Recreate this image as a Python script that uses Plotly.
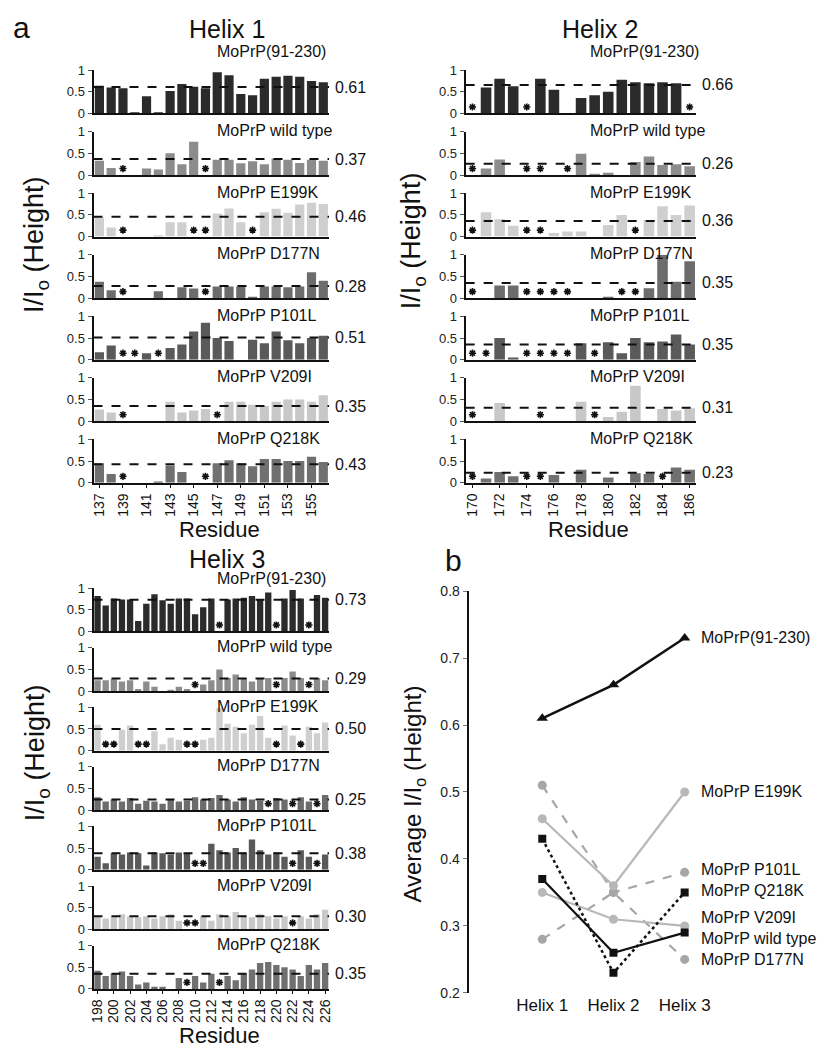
import plotly.graph_objects as go

W, H = 833, 1050
FONT = "Liberation Sans, Arial, Helvetica, sans-serif"
N = None  # residue marked with an asterisk (no value)

# ---------------- data ----------------
MUTANTS = ["MoPrP(91-230)", "MoPrP wild type", "MoPrP E199K", "MoPrP D177N",
           "MoPrP P101L", "MoPrP V209I", "MoPrP Q218K"]
HELICES = ["Helix 1", "Helix 2", "Helix 3"]

RES_H1 = list(range(137, 157))
RES_H2 = list(range(170, 187))
RES_H3 = list(range(198, 227))

H1_91230 = [0.64, 0.60, 0.58, 0.02, 0.40, 0.02, 0.52, 0.68, 0.62, 0.58, 0.95, 0.88, 0.45, 0.42, 0.80, 0.85, 0.87, 0.85, 0.75, 0.72]
H1_WT    = [0.33, 0.16, N, 0, 0.15, 0.13, 0.50, 0.25, 0.77, N, 0.35, 0.35, 0.27, 0.32, 0.25, 0.38, 0.35, 0.28, 0.35, 0.33]
H1_E199K = [0.44, 0.21, N, 0, 0, 0.03, 0.33, 0.33, N, N, 0.53, 0.65, 0.33, N, 0.56, 0.64, 0.55, 0.74, 0.78, 0.75]
H1_D177N = [0.38, 0.18, N, 0, 0, 0.16, 0, 0.25, 0.22, N, 0.27, 0.27, 0.27, 0.02, 0.27, 0.27, 0.25, 0.27, 0.60, 0.40]
H1_P101L = [0.17, 0.33, N, N, 0.15, N, 0.27, 0.35, 0.65, 0.85, 0.50, 0.43, 0, 0.46, 0.38, 0.65, 0.45, 0.38, 0.50, 0.55]
H1_V209I = [0.27, 0.20, N, 0, 0, 0, 0.45, 0.20, 0.25, 0.28, N, 0.45, 0.45, 0.38, 0.35, 0.45, 0.50, 0.50, 0.45, 0.60]
H1_Q218K = [0.45, 0.20, N, 0, 0, 0.02, 0.40, 0.25, 0, N, 0.45, 0.52, 0.45, 0.38, 0.55, 0.55, 0.50, 0.50, 0.60, 0.48]

H2_91230 = [N, 0.60, 0.80, 0.63, N, 0.80, 0.55, 0, 0.36, 0.42, 0.50, 0.78, 0.72, 0.70, 0.72, 0.70, N]
H2_WT    = [N, 0.15, 0.36, 0, N, N, 0, N, 0.49, 0.03, 0.05, 0, 0.30, 0.43, 0.23, 0.25, 0.20]
H2_E199K = [N, 0.56, 0.40, 0.25, N, N, 0.08, 0.12, 0.12, 0, 0.27, 0.50, N, 0.38, 0.70, 0.50, 0.72]
H2_D177N = [N, 0, 0.29, 0.29, N, N, N, N, 0, 0, 0.02, N, N, 0.23, 1.00, 0.38, 0.85]
H2_P101L = [N, N, 0.50, 0.05, N, N, N, N, 0.38, N, 0.40, 0.15, 0.50, 0.40, 0.42, 0.58, 0.35]
H2_V209I = [N, 0, 0.42, 0, 0, N, 0, 0, 0.45, N, 0.10, 0.22, 0.82, 0, 0.28, 0.25, 0.30]
H2_Q218K = [N, 0.10, 0.25, 0.15, N, N, 0.18, 0, 0.30, 0, 0.12, 0, 0.22, 0.20, N, 0.35, 0.30]

H3_91230 = [0.82, 0.60, 0.76, 0.74, 0.74, 0.24, 0.64, 0.86, 0.72, 0.64, 0.76, 0.76, 0.40, 0.56, 0.76, N, 0.74, 0.76, 0.78, 0.82, 0.74, 0.90, N, 0.76, 0.96, 0.76, N, 0.84, 0.78]
H3_WT    = [0.25, 0.25, 0.27, 0.22, 0.25, 0.05, 0.22, 0.10, 0, 0.02, 0.10, 0.05, N, 0.15, 0.25, 0.50, 0.30, 0.38, 0.30, 0.22, 0.30, 0.30, N, 0.30, 0.45, 0.30, N, 0.30, 0.25]
H3_E199K = [0.60, N, N, 0.48, 0.58, N, N, 0.45, 0.15, 0.30, 0.25, N, N, 0.25, 0.30, 0.98, 0.62, 0.55, 0.40, 0.60, 0.80, 0.30, N, 0.58, 0.35, N, 0.55, 0.40, 0.65]
H3_D177N = [0.30, 0.20, 0.25, 0.20, 0.28, 0.15, 0.22, 0.20, 0.15, 0.25, 0.20, 0.22, 0.30, 0.25, 0.28, 0.35, 0.25, 0.20, 0.30, 0.25, 0.22, N, 0.28, 0.25, N, 0.30, 0.20, N, 0.35]
H3_P101L = [0.30, 0.15, 0.38, 0.35, 0.40, 0.38, 0.10, 0.40, 0.38, 0.35, 0.40, 0.38, N, N, 0.60, 0.45, 0.40, 0.50, 0.40, 0.70, 0.45, 0.35, 0.40, 0.30, N, 0.45, 0.30, N, 0.35]
H3_V209I = [0.30, 0.25, 0.30, 0.35, 0.30, 0.28, 0.30, 0.25, 0.30, 0.35, 0.20, N, N, 0.30, 0.20, 0.35, 0.30, 0.40, 0.30, 0.28, 0.35, 0.30, 0.25, 0.30, N, 0.30, 0.25, 0.35, 0.45]
H3_Q218K = [0.42, 0.30, 0.35, 0.40, 0.30, 0.10, 0.15, 0.05, 0.05, 0, 0.25, N, 0.30, 0.15, 0.35, N, 0.30, 0.20, 0.35, 0.45, 0.60, 0.62, 0.55, 0.50, 0.45, 0.30, 0.55, 0.45, 0.60]

AVG_H1 = [0.61, 0.37, 0.46, 0.28, 0.51, 0.35, 0.43]
AVG_H2 = [0.66, 0.26, 0.36, 0.35, 0.35, 0.31, 0.23]
AVG_H3 = [0.73, 0.29, 0.50, 0.25, 0.38, 0.30, 0.35]

HELIX_DATA = [
    (RES_H1, [H1_91230, H1_WT, H1_E199K, H1_D177N, H1_P101L, H1_V209I, H1_Q218K], AVG_H1),
    (RES_H2, [H2_91230, H2_WT, H2_E199K, H2_D177N, H2_P101L, H2_V209I, H2_Q218K], AVG_H2),
    (RES_H3, [H3_91230, H3_WT, H3_E199K, H3_D177N, H3_P101L, H3_V209I, H3_Q218K], AVG_H3),
]

# ---------------- style ----------------
BAR_COLORS = ["#2b2b2b", "#8c8c8c", "#cfcfcf", "#6c6c6c", "#5a5a5a", "#c8c8c8", "#707070"]
STAR_LEVEL = 0.15

# panel geometry in pixels
PANELS = [
    dict(x0=83, x1=323, top0=55, pitch=62.5, title=(219, 13), label_x=207, val_x=327,
         ylab=(25, 232), residue_y=521, first_dy=-19),
    dict(x0=462, x1=697, top0=55, pitch=62.5, title=(599, 13), label_x=587, val_x=701,
         ylab=(408, 228), residue_y=521, first_dy=-19),
    dict(x0=83, x1=323, top0=581, pitch=60.5, title=(219, 551), label_x=207, val_x=327,
         ylab=(25, 748), residue_y=1035, first_dy=-10),
]
SUB_H = 44


def px(x):
    return x / W


def py(y):
    return 1 - y / H


fig = go.Figure()
layout = dict(width=W, height=H, margin=dict(l=0, r=0, t=0, b=0),
              paper_bgcolor="white", plot_bgcolor="white", showlegend=False,
              bargap=0.22, font=dict(family=FONT, color="#111"))
annotations = []

k = 0
for h, (res, series, avgs) in enumerate(HELIX_DATA):
    P = PANELS[h]
    annotations.append(dict(text=HELICES[h], x=px(P["title"][0]), y=py(P["title"][1]),
                            xref="paper", yref="paper", showarrow=False,
                            font=dict(size=25, color="#111"), xanchor="center", yanchor="middle"))
    annotations.append(dict(text="I/I<sub>o</sub> (Height)", x=px(P["ylab"][0]), y=py(P["ylab"][1]),
                            xref="paper", yref="paper", showarrow=False, textangle=-90,
                            font=dict(size=27, color="#111"), xanchor="center", yanchor="middle"))
    annotations.append(dict(text="Residue", x=px((P["x0"] + P["x1"]) / 2 + 8), y=py(P["residue_y"]),
                            xref="paper", yref="paper", showarrow=False,
                            font=dict(size=22, color="#111"), xanchor="center", yanchor="middle"))
    for m in range(7):
        k += 1
        xa = "x" if k == 1 else f"x{k}"
        ya = "y" if k == 1 else f"y{k}"
        top = P["top0"] + P["pitch"] * m
        bottom = top + SUB_H
        vals = series[m]
        fig.add_trace(go.Bar(x=res, y=[v if v is not None else 0 for v in vals],
                             marker=dict(color=BAR_COLORS[m], line=dict(width=0)),
                             xaxis=xa, yaxis=ya, hoverinfo="x+y"))
        sx = [r for r, v in zip(res, vals) if v is None]
        if sx:
            fig.add_trace(go.Scatter(x=sx, y=[STAR_LEVEL] * len(sx), mode="markers",
                                     marker=dict(symbol="asterisk-open", size=6, color="#111",
                                                 line=dict(width=1.6, color="#111")),
                                     xaxis=xa, yaxis=ya, hoverinfo="skip"))
        fig.add_trace(go.Scatter(x=[res[0] - 0.5, res[-1] + 0.5], y=[avgs[m], avgs[m]],
                                 mode="lines", line=dict(color="#111", width=2, dash="dash"),
                                 xaxis=xa, yaxis=ya, hoverinfo="skip"))
        is_bottom = (m == 6)
        xdef = dict(
            domain=[px(P["x0"]), px(P["x1"])], anchor=ya,
            range=[res[0] - 0.5, res[-1] + 0.5],
            showline=True, linecolor="#111", linewidth=2, showgrid=False, zeroline=False,
            showticklabels=is_bottom, ticks="outside" if is_bottom else "", fixedrange=True)
        if is_bottom:
            xdef.update(tickmode="array", tickvals=res[::2], ticktext=[str(r) for r in res[::2]],
                        tickangle=-90, ticklen=3, tickcolor="#111",
                        tickfont=dict(size=14, color="#111"))
        layout["xaxis" if k == 1 else f"xaxis{k}"] = xdef
        layout["yaxis" if k == 1 else f"yaxis{k}"] = dict(
            domain=[py(bottom), py(top)], anchor=xa, range=[0, 1],
            showline=True, linecolor="#111", linewidth=2, showgrid=False, zeroline=False,
            tickmode="array", tickvals=[0, 0.5, 1], ticktext=["0", "0.5", "1"],
            ticks="outside", ticklen=4, tickcolor="#555", tickfont=dict(size=13, color="#222"),
            fixedrange=True)
        ly = top + (P["first_dy"] if m == 0 else -1)
        annotations.append(dict(text=MUTANTS[m], x=px(P["label_x"]), y=py(ly),
                                xref="paper", yref="paper", showarrow=False,
                                font=dict(size=16, color="#111"), xanchor="left", yanchor="middle"))
        annotations.append(dict(text=f"{avgs[m]:.2f}", x=px(P["val_x"]), y=avgs[m],
                                xref="paper", yref=ya, showarrow=False,
                                font=dict(size=16, color="#111"), xanchor="left", yanchor="middle"))

# ---------------- panel b ----------------
k += 1
xa, ya = f"x{k}", f"y{k}"
HX = [1, 2, 3]
LINE_STYLES = [
    dict(color="#111111", dash="solid", width=2.5, symbol="triangle-up", size=10),   # 91-230
    dict(color="#111111", dash="solid", width=2.2, symbol="square", size=8),         # wild type
    dict(color="#b8b8b8", dash="solid", width=2.2, symbol="circle", size=9),         # E199K
    dict(color="#a6a6a6", dash="dash", width=2.2, symbol="circle", size=9),          # D177N
    dict(color="#a6a6a6", dash="dash", width=2.2, symbol="circle", size=9),          # P101L
    dict(color="#b8b8b8", dash="solid", width=2.2, symbol="circle", size=9),         # V209I
    dict(color="#111111", dash="dot", width=2.5, symbol="square", size=8),           # Q218K
]
LABEL_Y = [0.73, 0.281, 0.50, 0.25, 0.385, 0.313, 0.353]
draw_order = [4, 3, 5, 2, 6, 1, 0]
for m in draw_order:
    s = LINE_STYLES[m]
    yv = [AVG_H1[m], AVG_H2[m], AVG_H3[m]]
    fig.add_trace(go.Scatter(x=HX, y=yv, mode="lines+markers", name=MUTANTS[m],
                             line=dict(color=s["color"], width=s["width"], dash=s["dash"]),
                             marker=dict(symbol=s["symbol"], size=s["size"], color=s["color"]),
                             xaxis=xa, yaxis=ya))
    annotations.append(dict(text=MUTANTS[m], x=3, y=LABEL_Y[m], xref=xa, yref=ya,
                            xshift=14, showarrow=False, xanchor="left", yanchor="middle",
                            font=dict(size=16, color="#111")))

unit = (685 - 540) / 2.0
layout[f"xaxis{k}"] = dict(domain=[px(465), px(700)], anchor=ya,
                           range=[1 - (540 - 465) / unit, 3 + (700 - 685) / unit],
                           showline=False, showgrid=False, zeroline=False,
                           tickmode="array", tickvals=HX, ticktext=HELICES, ticks="",
                           tickfont=dict(size=17, color="#111"), fixedrange=True)
layout[f"yaxis{k}"] = dict(domain=[py(992), py(584)], anchor=xa, range=[0.2, 0.8],
                           showline=True, linecolor="#111", linewidth=2, showgrid=False,
                           zeroline=False, tickmode="array",
                           tickvals=[0.2, 0.3, 0.4, 0.5, 0.6, 0.7, 0.8],
                           ticktext=["0.2", "0.3", "0.4", "0.5", "0.6", "0.7", "0.8"],
                           ticks="outside", ticklen=4, tickcolor="#777",
                           tickfont=dict(size=14, color="#222"), fixedrange=True)
annotations.append(dict(text="Average I/I<sub>o</sub> (Height)", x=px(410), y=py(790),
                        xref="paper", yref="paper", showarrow=False, textangle=-90,
                        font=dict(size=24, color="#111"), xanchor="center", yanchor="middle"))

annotations.append(dict(text="a", x=px(10), y=py(12), xref="paper", yref="paper",
                        showarrow=False, font=dict(size=30, color="#111"),
                        xanchor="center", yanchor="middle"))
annotations.append(dict(text="b", x=px(450), y=py(553), xref="paper", yref="paper",
                        showarrow=False, font=dict(size=30, color="#111"),
                        xanchor="center", yanchor="middle"))

layout["annotations"] = annotations
fig.update_layout(**layout)
fig.write_html("out.html")
